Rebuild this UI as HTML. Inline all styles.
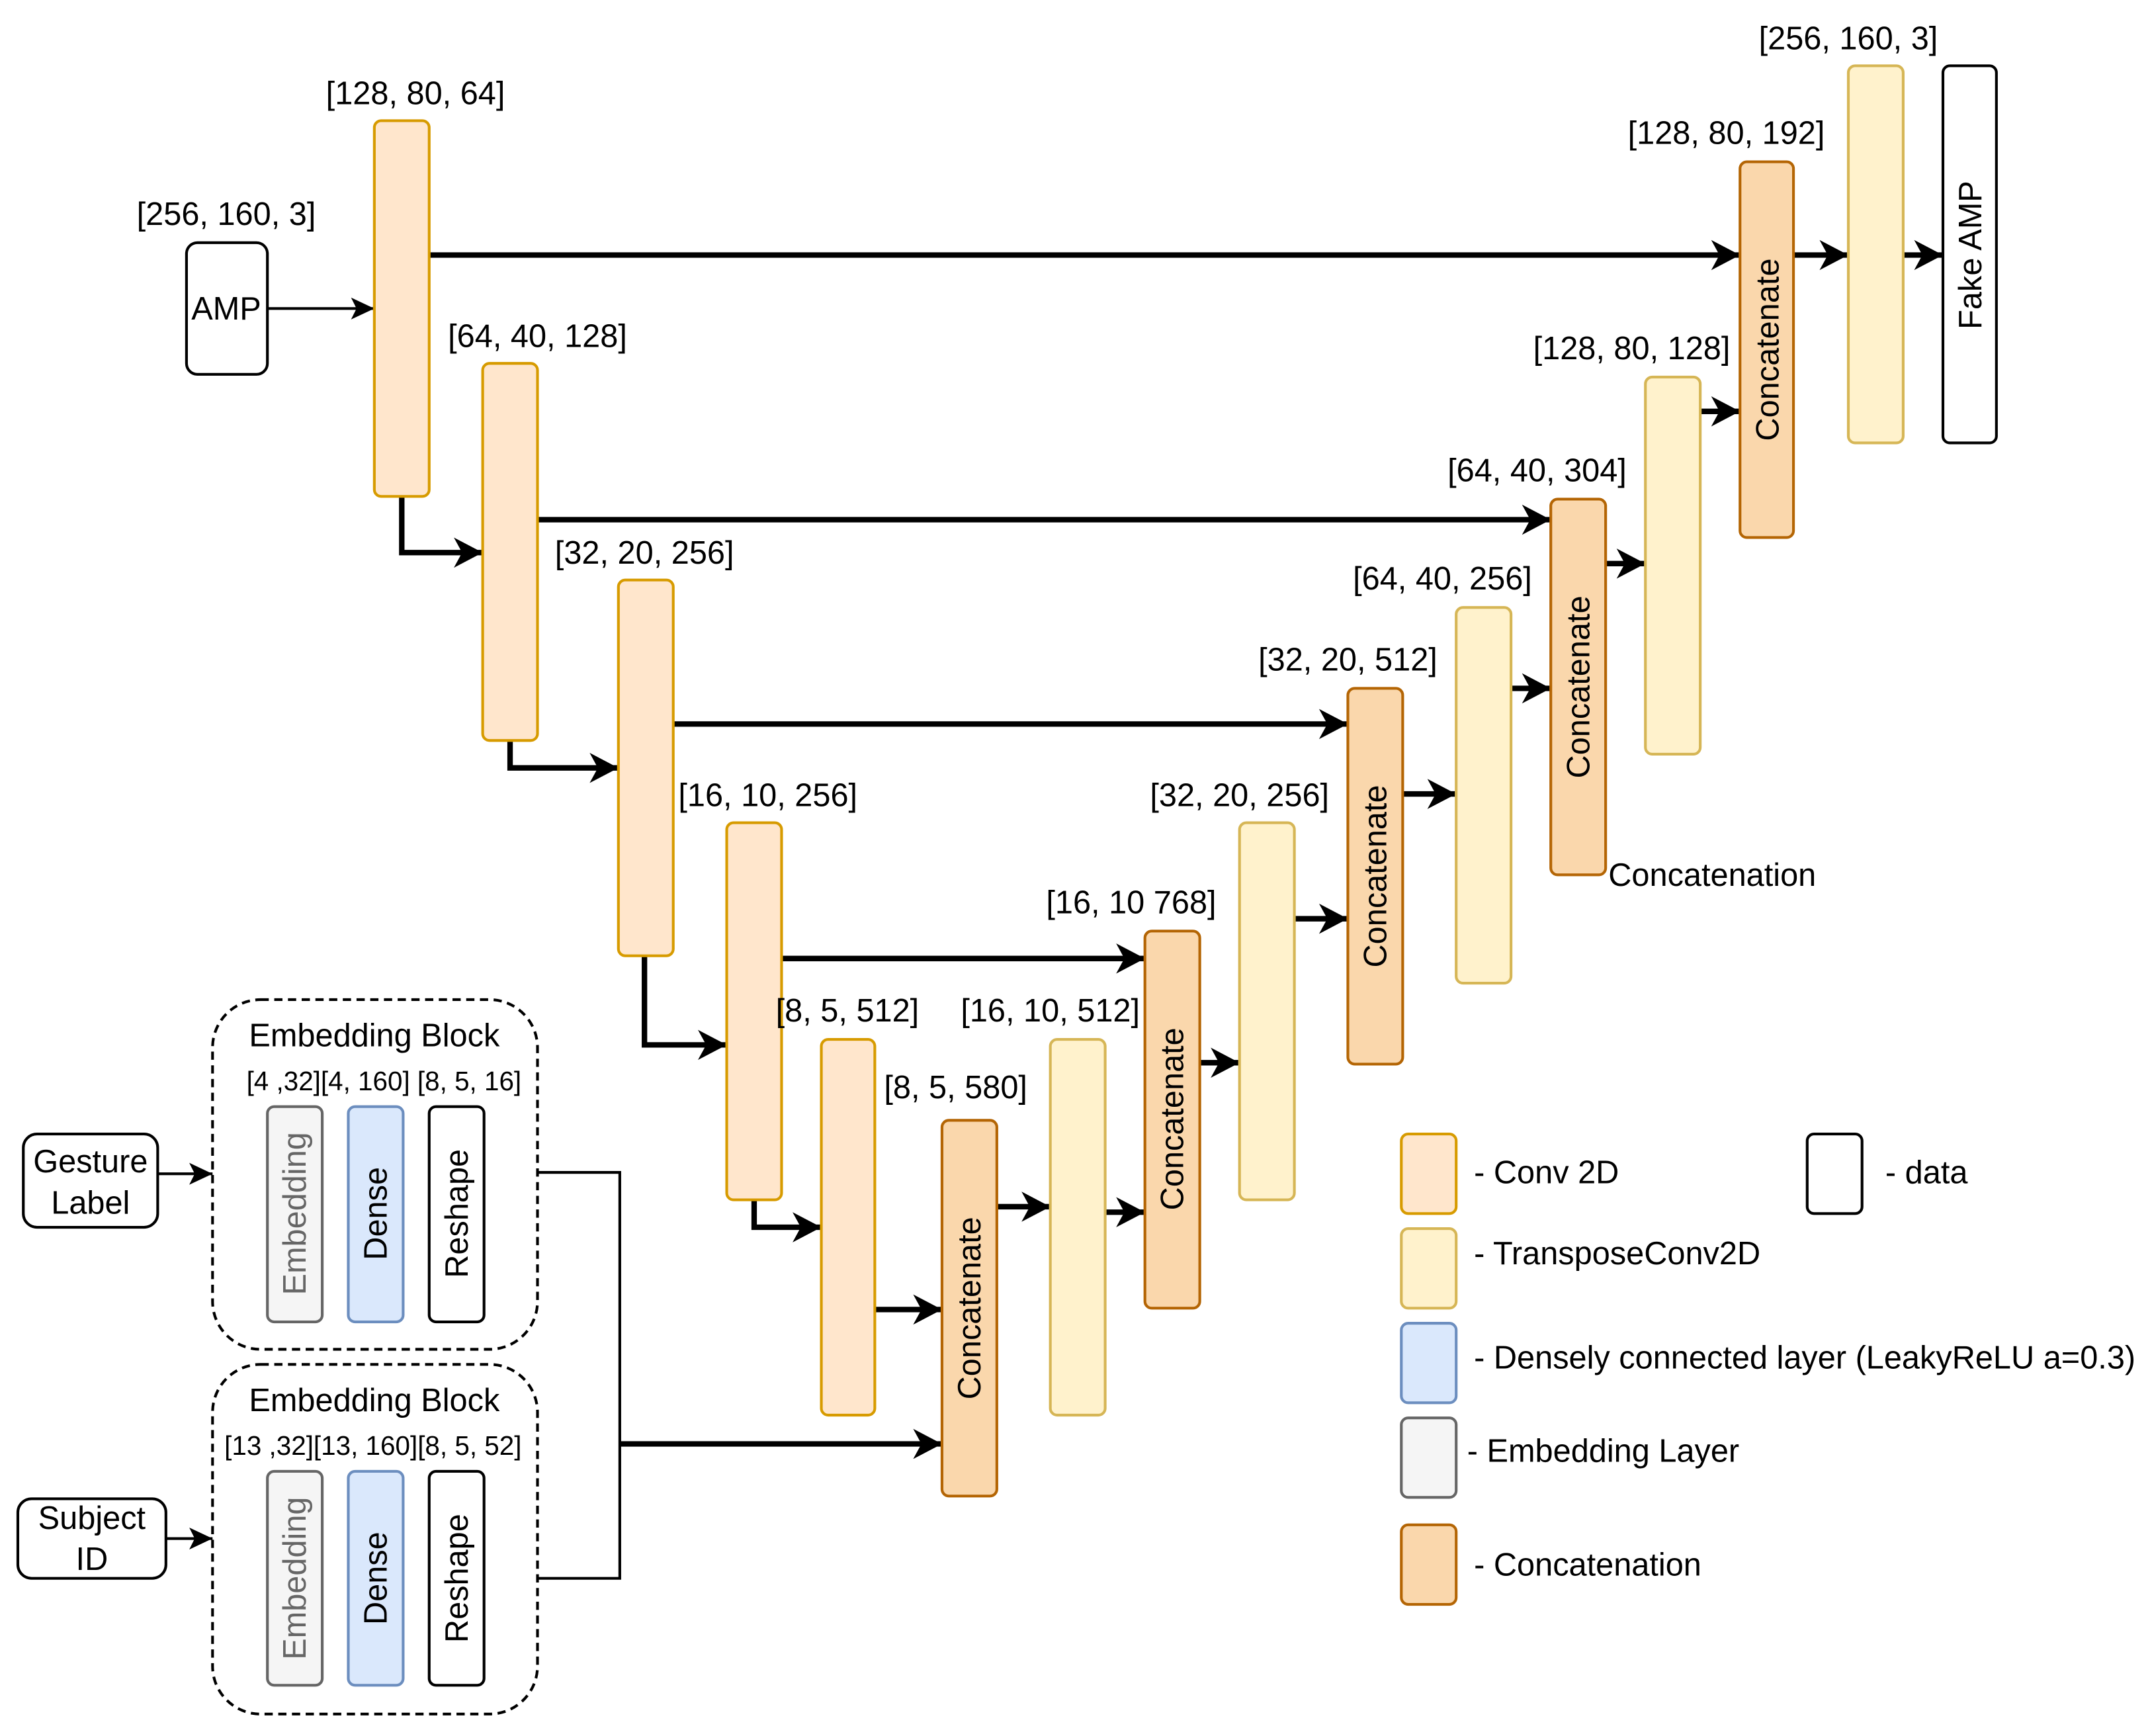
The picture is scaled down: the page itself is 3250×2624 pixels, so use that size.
<!DOCTYPE html>
<html><head><meta charset="utf-8"><style>html,body{margin:0;padding:0;background:#fff}svg{display:block}text{font-family:"Liberation Sans",Arial,sans-serif;fill:#000}</style></head>
<body>
<svg width="3250" height="2624" viewBox="0 0 1568 1266" xmlns="http://www.w3.org/2000/svg">
<defs>
<marker id="a" markerUnits="userSpaceOnUse" markerWidth="24" markerHeight="24" refX="21" refY="11" orient="auto"><path d="M0,0 L21,11 L0,22 L6,11 Z" fill="#000"/></marker>
<marker id="s" markerUnits="userSpaceOnUse" markerWidth="20" markerHeight="20" refX="17" refY="8" orient="auto"><path d="M0,0 L17,8 L0,16 L4,8 Z" fill="#000"/></marker>
</defs>
<g font-size="23.5" text-anchor="middle">
<g stroke="#000" stroke-width="4" fill="none" marker-end="url(#a)">
<path d="M313,186 H1269"/>
<path d="M392,379 H1131"/>
<path d="M491,528 H983"/>
<path d="M570,699 H835"/>
<path d="M638,955 H687"/>
<path d="M727,880 H766"/>
<path d="M806,884 H835"/>
<path d="M875,775 H904"/>
<path d="M944,670 H983"/>
<path d="M1023,579 H1062"/>
<path d="M1102,502 H1131"/>
<path d="M1171,411 H1200"/>
<path d="M1240,300 H1269"/>
<path d="M1308,186 H1348"/>
<path d="M1388,186 H1417"/>
<path d="M293,362 V403 H352"/>
<path d="M372,540 V560 H451"/>
<path d="M470,697 V762 H530"/>
<path d="M550,875 V895 H599"/>
<path d="M452,1053 H687"/>
</g>
<g stroke="#000" stroke-width="2" fill="none" marker-end="url(#s)">
<path d="M195,225 H273"/>
<path d="M115,856 H155"/>
<path d="M121,1122 H155"/>
</g>
<path d="M392,855 H452 V1151 H392" stroke="#000" stroke-width="2" fill="none"/>

<g fill="#ffe6cc" stroke="#d79b00" stroke-width="2">
<rect x="273" y="88" width="40" height="274" rx="5"/>
<rect x="352" y="265" width="40" height="275" rx="5"/>
<rect x="451" y="423" width="40" height="274" rx="5"/>
<rect x="530" y="600" width="40" height="275" rx="5"/>
<rect x="599" y="758" width="39" height="274" rx="5"/>
<rect x="1022" y="827" width="40" height="58" rx="5"/>
</g>
<g fill="#fff2cc" stroke="#d6b656" stroke-width="2">
<rect x="766" y="758" width="40" height="274" rx="5"/>
<rect x="904" y="600" width="40" height="275" rx="5"/>
<rect x="1062" y="443" width="40" height="274" rx="5"/>
<rect x="1200" y="275" width="40" height="275" rx="5"/>
<rect x="1348" y="48" width="40" height="275" rx="5"/>
<rect x="1022" y="896" width="40" height="58" rx="5"/>
</g>
<g fill="#fad7ac" stroke="#b46504" stroke-width="2">
<rect x="687" y="817" width="40" height="274" rx="5"/>
<rect x="835" y="679" width="40" height="275" rx="5"/>
<rect x="983" y="502" width="40" height="274" rx="5"/>
<rect x="1131" y="364" width="40" height="274" rx="5"/>
<rect x="1269" y="118" width="39" height="274" rx="5"/>
<rect x="1022" y="1112" width="40" height="58" rx="5"/>
</g>
<g fill="#dae8fc" stroke="#6c8ebf" stroke-width="2">
<rect x="254" y="807" width="40" height="157" rx="5"/>
<rect x="254" y="1073" width="40" height="156" rx="5"/>
<rect x="1022" y="965" width="40" height="58" rx="5"/>
</g>
<g fill="#f5f5f5" stroke="#666" stroke-width="2">
<rect x="195" y="807" width="40" height="157" rx="5"/>
<rect x="195" y="1073" width="40" height="156" rx="5"/>
<rect x="1022" y="1034" width="40" height="58" rx="5"/>
</g>
<g fill="#fff" stroke="#000" stroke-width="2">
<rect x="313" y="807" width="40" height="157" rx="5"/>
<rect x="313" y="1073" width="40" height="156" rx="5"/>
<rect x="1417" y="48" width="39" height="275" rx="5"/>
<rect x="136" y="177" width="59" height="96" rx="8"/>
<rect x="17" y="827" width="98" height="68" rx="10"/>
<rect x="13" y="1093" width="108" height="58" rx="10"/>
<rect x="1318" y="827" width="40" height="58" rx="5"/>
</g>
<g fill="none" stroke="#000" stroke-width="2" stroke-dasharray="6,4">
<rect x="155" y="729" width="237" height="255" rx="35"/>
<rect x="155" y="995" width="237" height="255" rx="35"/>
</g>

<g>
<text transform="translate(715,954) rotate(-90)">Concatenate</text>
<text transform="translate(863,816) rotate(-90)">Concatenate</text>
<text transform="translate(1011,639) rotate(-90)">Concatenate</text>
<text transform="translate(1159,501) rotate(-90)">Concatenate</text>
<text transform="translate(1297,255) rotate(-90)">Concatenate</text>
<text transform="translate(1445,186) rotate(-90)">Fake AMP</text>
<text transform="translate(223,885) rotate(-90)" style="fill:#666">Embedding</text>
<text transform="translate(282,885) rotate(-90)">Dense</text>
<text transform="translate(341,885) rotate(-90)">Reshape</text>
<text transform="translate(223,1151) rotate(-90)" style="fill:#666">Embedding</text>
<text transform="translate(282,1151) rotate(-90)">Dense</text>
<text transform="translate(341,1151) rotate(-90)">Reshape</text>
</g>

<text x="165" y="233">AMP</text>
<text x="66" y="855">Gesture</text>
<text x="66" y="885">Label</text>
<text x="67" y="1115">Subject</text>
<text x="67" y="1145">ID</text>
<text x="165" y="164">[256, 160, 3]</text>
<text x="303" y="76">[128, 80, 64]</text>
<text x="392" y="253">[64, 40, 128]</text>
<text x="470" y="411">[32, 20, 256]</text>
<text x="560" y="588">[16, 10, 256]</text>
<text x="618" y="745">[8, 5, 512]</text>
<text x="697" y="801">[8, 5, 580]</text>
<text x="766" y="745">[16, 10, 512]</text>
<text x="825" y="666">[16, 10 768]</text>
<text x="904" y="588">[32, 20, 256]</text>
<text x="983" y="489">[32, 20, 512]</text>
<text x="1052" y="430">[64, 40, 256]</text>
<text x="1121" y="351">[64, 40, 304]</text>
<text x="1190" y="262">[128, 80, 128]</text>
<text x="1259" y="105">[128, 80, 192]</text>
<text x="1348" y="36">[256, 160, 3]</text>
<text x="273" y="763">Embedding Block</text>
<text x="273" y="1029">Embedding Block</text>
<text x="280" y="795" font-size="19.5">[4 ,32][4, 160]  [8, 5, 16]</text>
<text x="272" y="1061" font-size="19.5">[13 ,32][13, 160][8, 5, 52]</text>
<g text-anchor="start">
<text x="1173" y="646">Concatenation</text>
<text x="1075" y="863">- Conv 2D</text>
<text x="1075" y="922">- TransposeConv2D</text>
<text x="1075" y="998">- Densely connected layer (LeakyReLU a=0.3)</text>
<text x="1070" y="1066">- Embedding Layer</text>
<text x="1075" y="1149">- Concatenation</text>
<text x="1375" y="863">- data</text>
</g>
</g>
</svg>
</body></html>
